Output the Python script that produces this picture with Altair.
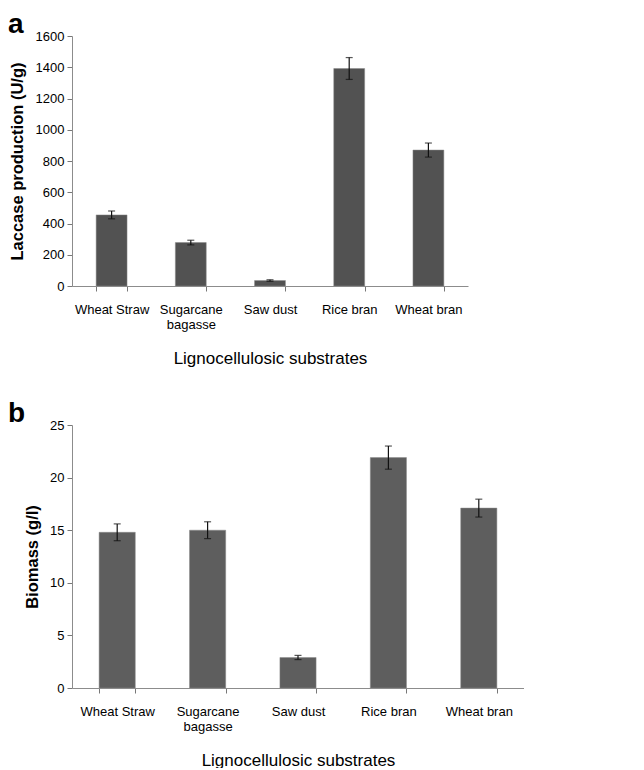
import altair as alt
import pandas as pd

categories = ["Wheat Straw", "Sugarcane bagasse", "Saw dust", "Rice bran", "Wheat bran"]
laccase = [455, 278, 35, 1392, 870]
laccase_err = [25, 15, 5, 70, 45]
biomass = [14.8, 15.0, 2.9, 21.9, 17.1]
biomass_err = [0.8, 0.8, 0.2, 1.1, 0.85]

df_a = pd.DataFrame({"cat": categories, "v": laccase,
                     "lo": [v - e for v, e in zip(laccase, laccase_err)],
                     "hi": [v + e for v, e in zip(laccase, laccase_err)]})
df_b = pd.DataFrame({"cat": categories, "v": biomass,
                     "lo": [v - e for v, e in zip(biomass, biomass_err)],
                     "hi": [v + e for v, e in zip(biomass, biomass_err)]})

FONT = "Liberation Sans"
label_expr = "datum.value == 'Sugarcane bagasse' ? ['Sugarcane', 'bagasse'] : datum.value"


def panel(df, letter, ytitle, domain, tick_step, color, w, h, inner, ytp):
    xaxis = alt.Axis(title="Lignocellulosic substrates", labelAngle=0, labelExpr=label_expr,
                     tickBand="extent", ticks=True, tickSize=5, titlePadding=19,
                     labelPadding=12)
    yaxis = alt.Axis(values=list(range(domain[0], domain[1] + 1, tick_step)),
                     format="d", labelOverlap=False, tickCount=len(range(domain[0], domain[1] + 1, tick_step)),
                     tickSize=5, titlePadding=ytp, labelPadding=3)
    yscale = alt.Scale(domain=domain, nice=False, zero=True)
    x = alt.X("cat:N", sort=categories, axis=xaxis,
              scale=alt.Scale(paddingInner=inner, paddingOuter=inner / 2))
    bars = alt.Chart(df).mark_bar(color=color, stroke="#888888", strokeWidth=0.5).encode(
        x=x,
        y=alt.Y("v:Q", title=ytitle, scale=yscale, axis=yaxis),
    )
    err = alt.Chart(df).mark_errorbar(ticks={"size": 7, "color": "#111111"}, color="#111111",
                                      thickness=1.2).encode(
        x=alt.X("cat:N", sort=categories, axis=xaxis),
        y=alt.Y("lo:Q", title=ytitle, scale=yscale, axis=yaxis),
        y2="hi:Q",
    )
    return alt.layer(bars, err).properties(
        width=w, height=h,
        title=alt.TitleParams(letter, anchor="start", frame="group", dx=-64,
                              fontSize=28, fontWeight="bold", font=FONT, color="#000000",
                              offset=-9),
    )


top = panel(df_a, "a", "Laccase production (U/g)", [0, 1600], 200, "#525252", 396, 250, 0.61, 10)
bottom = panel(df_b, "b", "Biomass (g/l)", [0, 25], 5, "#5e5e5e", 452, 263, 0.6, 9)

chart = alt.vconcat(top, bottom, spacing=34).properties(
    padding={"left": 0, "top": 3, "right": 0, "bottom": 0}
).configure_view(stroke=None).configure_axis(
    labelFont=FONT, titleFont=FONT, labelFontSize=13, titleFontSize=16,
    labelColor="#000000", titleColor="#000000", domainColor="#8c8c8c", tickColor="#777777",
    grid=False, labelFontWeight="normal",
).configure_axisY(titleFontWeight="bold", titleFontSize=16.5).configure_axisX(
    titleFontWeight="normal", titleFontSize=17)

chart.save("out.html", embed_options={"renderer": "svg", "actions": False})
